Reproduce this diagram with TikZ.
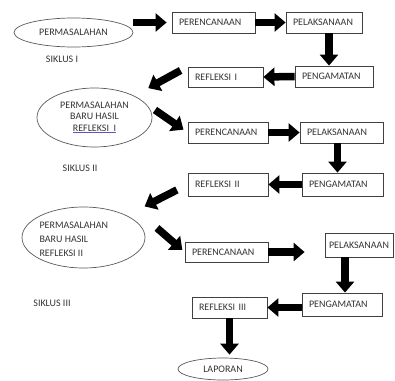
\documentclass[tikz,border=0pt]{standalone}
\usepackage{fontspec}
\setmainfont{Carlito}
\usetikzlibrary{shapes.geometric,arrows.meta}
\definecolor{ulblue}{RGB}{95,85,190}
\begin{document}
\begin{tikzpicture}[x=1pt,y=-1pt,
  stagebox/.style={draw=black!75,line width=0.8pt,text width=#1,inner xsep=7pt,
    align=left,minimum height=21pt,font=\fontsize{10}{12}\selectfont,text=black!80},
  masalah/.style={draw=black!65,line width=0.7pt,ellipse,inner sep=0pt,
    font=\fontsize{10}{12}\selectfont,text=black!80,align=center},
  siklus/.style={font=\fontsize{10}{12}\selectfont,text=black!80},
  blockarrow/.style={line width=7.5pt,-{Triangle[width=18pt,length=11pt]}}]
   \useasboundingbox (0,0) rectangle (395,380);
   % siklus I
   \node[masalah,minimum width=119pt,minimum height=29pt] (mas1) at (73.5,32.5) {PERMASALAHAN};
   \node[siklus] (sik1) at (62,59) {SIKLUS I};
   \node[stagebox=69pt] (per1) at (213.5,22.5) {PERENCANAAN};
   \node[stagebox=62pt] (pel1) at (324,22.5) {PELAKSANAAN};
   \node[stagebox=64pt] (ama1) at (334,76.5) {PENGAMATAN};
   \node[stagebox=61pt,minimum height=20pt] (ref1) at (225.5,77) {REFLEKSI I};
   % siklus II
   \node[masalah,minimum width=115pt,minimum height=59pt,font=\fontsize{10}{11.5}\selectfont] (mas2) at (94.5,117.5)
      {PERMASALAHAN\\BARU HASIL\\{\color{ulblue}\underline{\color{black!80}REFLEKSI\ \ I}}};
   \node[siklus] (sik2) at (80,168) {SIKLUS II};
   \node[stagebox=66pt] (per2) at (228,132.5) {PERENCANAAN};
   \node[stagebox=69pt] (pel2) at (341.5,132.5) {PELAKSANAAN};
   \node[stagebox=67pt,minimum height=23pt] (ama2) at (342.5,184.5) {PENGAMATAN};
   \node[stagebox=66pt,minimum height=23pt] (ref2) at (228,184.5) {REFLEKSI II};
   % siklus III
   \node[masalah,minimum width=123pt,minimum height=61pt] (mas3) at (83.5,237.5) {};
   \node[siklus,align=left,anchor=west,font=\fontsize{10}{14}\selectfont] (teks3) at (36,239)
      {PERMASALAHAN\\BARU HASIL\\REFLEKSI II};
   \node[siklus] (sik3) at (52,303) {SIKLUS III};
   \node[stagebox=69pt,minimum height=20pt] (per3) at (226.5,252) {PERENCANAAN};
   \node[stagebox=60pt,inner xsep=4pt,minimum height=24pt] (pel3) at (359,245) {PELAKSANAAN};
   \node[stagebox=66pt,minimum height=23pt] (ama3) at (342,304.5) {PENGAMATAN};
   \node[stagebox=61pt] (ref3) at (229.5,307.5) {REFLEKSI III};
   \node[masalah,minimum width=90pt,minimum height=22pt] (lap) at (223,369) {LAPORAN};
   \coordinate (ekor2) at (155,110);
   \coordinate (ekor3) at (157,228);
    \path[blockarrow]
    (mas1.east |- per1.west) edge [shorten >=5pt] (per1.west)
    (per1.east) edge (pel1.west)
    ([xshift=5pt]pel1.south) edge ([xshift=5pt]pel1.south |- ama1.north)
    (ama1.west) edge (ref1.east)
    (ref1.north west) edge [shorten <=8pt, shorten >=16pt] (mas2)
    (ekor2) edge [shorten >=5pt] (per2.west)
    (per2.east) edge (pel2.west)
    ([xshift=-4pt]pel2.south) edge ([xshift=-4pt]pel2.south |- ama2.north)
    (ama2.west) edge (ref2.east)
    (ref2.west) edge [shorten <=12pt, shorten >=20pt] (mas3)
    (ekor3) edge [shorten >=3pt] (per3.west)
    (per3.east) edge [shorten >=20pt] (per3.east -| pel3.west)
    ([xshift=3pt]ama3.north |- pel3.south) edge ([xshift=3pt]ama3.north)
    (ama3.west |- ref3.east) edge (ref3.east)
    (ref3.south) edge [shorten >=3pt] (ref3.south |- lap.north);
\end{tikzpicture}
\end{document}
